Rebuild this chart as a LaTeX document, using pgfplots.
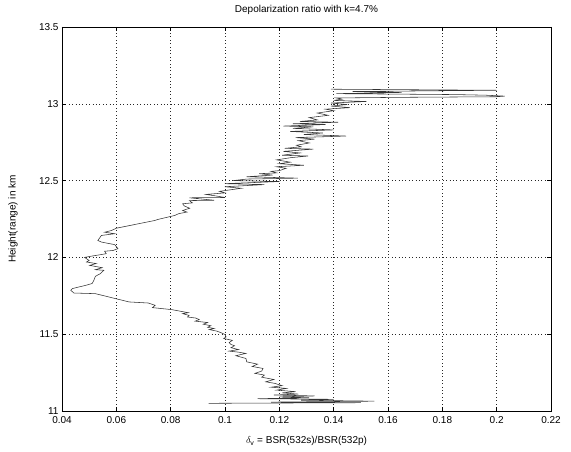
\documentclass[border=0pt]{standalone}
\usepackage{fontspec}
\setmainfont{Liberation Sans}
\usepackage{pgfplots}
\pgfplotsset{compat=1.18}
\pgfplotstableread{
v h
0.094 11.050
0.150 11.054
0.117 11.058
0.155 11.064
0.128 11.070
0.140 11.076
0.112 11.080
0.131 11.086
0.120 11.092
0.133 11.098
0.118 11.104
0.127 11.110
0.121 11.118
0.126 11.126
0.119 11.136
0.1226 11.147
0.117 11.155
0.121 11.165
0.1183 11.180
0.115 11.190
0.118 11.205
0.1135 11.220
0.1145 11.234
0.111 11.245
0.1135 11.260
0.114 11.277
0.110 11.290
0.112 11.305
0.108 11.320
0.1077 11.342
0.104 11.360
0.1077 11.375
0.105 11.383
0.1015 11.390
0.105 11.400
0.1022 11.412
0.1035 11.425
0.1022 11.433
0.1015 11.445
0.1027 11.460
0.0995 11.472
0.1004 11.482
0.1000 11.498
0.0985 11.510
0.0970 11.520
0.0942 11.530
0.0960 11.537
0.0936 11.545
0.0948 11.555
0.0920 11.565
0.0936 11.576
0.0890 11.585
0.0905 11.595
0.0893 11.605
0.0862 11.612
0.0868 11.622
0.0844 11.634
0.0865 11.640
0.0804 11.660
0.0733 11.673
0.0743 11.688
0.0718 11.703
0.0647 11.710
0.0596 11.732
0.0523 11.764
0.0444 11.768
0.0432 11.786
0.0438 11.797
0.0487 11.818
0.0511 11.830
0.0517 11.850
0.0523 11.877
0.0541 11.894
0.0554 11.916
0.0523 11.920
0.0548 11.933
0.0502 11.948
0.0526 11.960
0.0490 11.970
0.0500 11.980
0.0483 12.000
0.0508 12.008
0.0563 12.024
0.0557 12.040
0.0588 12.045
0.0606 12.057
0.0594 12.083
0.0545 12.100
0.0532 12.110
0.0545 12.143
0.0594 12.154
0.0557 12.164
0.0582 12.175
0.0600 12.190
0.0741 12.240
0.0753 12.247
0.0815 12.273
0.0830 12.285
0.0860 12.295
0.0844 12.305
0.0870 12.320
0.0850 12.335
0.0844 12.349
0.0880 12.355
0.0869 12.370
0.0960 12.372
0.0869 12.388
0.1000 12.390
0.0967 12.400
0.0930 12.410
0.1000 12.420
0.0980 12.430
0.1060 12.450
0.1000 12.460
0.1145 12.474
0.1000 12.480
0.1200 12.494
0.1030 12.500
0.1080 12.510
0.1268 12.516
0.1080 12.525
0.1175 12.536
0.1126 12.545
0.1190 12.550
0.1170 12.560
0.1200 12.565
0.1225 12.580
0.1190 12.590
0.1290 12.600
0.1200 12.610
0.1240 12.620
0.1190 12.635
0.1245 12.650
0.1306 12.660
0.1210 12.665
0.1276 12.680
0.1215 12.690
0.1325 12.705
0.1220 12.710
0.1280 12.720
0.1263 12.730
0.1310 12.745
0.1270 12.760
0.1330 12.770
0.1260 12.780
0.1446 12.790
0.1290 12.800
0.1360 12.810
0.1240 12.820
0.1400 12.830
0.1250 12.840
0.1325 12.850
0.1215 12.855
0.1370 12.865
0.1250 12.870
0.1416 12.880
0.1276 12.885
0.1340 12.895
0.1310 12.910
0.1380 12.925
0.1340 12.940
0.1400 12.955
0.1370 12.965
0.1460 12.975
0.1390 12.985
0.1450 12.995
0.1390 13.005
0.1520 13.015
0.1400 13.022
0.1430 13.030
0.1410 13.038
0.1640 13.042
0.2000 13.046
0.2030 13.050
0.1960 13.056
0.1850 13.060
0.1410 13.066
0.1650 13.074
0.1470 13.080
0.2000 13.088
0.1390 13.095
}\profile
\begin{document}
\begin{tikzpicture}
\begin{axis}[
  scale only axis,
  width=489pt, height=384pt,
  xmin=0.04, xmax=0.22, ymin=11, ymax=13.5,
  xtick={0.04,0.06,0.08,0.1,0.12,0.14,0.16,0.18,0.2,0.22},
  xticklabels={0.04,0.06,0.08,0.1,0.12,0.14,0.16,0.18,0.2,0.22},
  ytick={11,11.5,12,12.5,13,13.5},
  yticklabels={11,11.5,12,12.5,13,13.5},
  /pgf/number format/assume math mode=true,
  tick align=inside,
  major tick length=4pt,
  tick style={black, line width=0.5pt},
  axis line style={black, line width=0.6pt},
  grid=major,
  major grid style={black!85, line width=0.5pt, dash pattern=on 0.6pt off 2.8pt},
  font=\fontsize{10}{12}\selectfont,
  ticklabel style={font=\fontsize{10}{12}\selectfont},
  xticklabel style={yshift=-1.5pt},
  title={Depolarization ratio with k=4.7\%},
  title style={at={(axis description cs:0.5,1)}, anchor=south, yshift=3pt},
  xlabel={$\delta_{\mathrm{v}}$ = BSR(532s)/BSR(532p)},
  xlabel style={at={(axis description cs:0.5,0)}, anchor=center, yshift=-30pt},
  ylabel={Height(range) in km},
  ylabel style={at={(axis description cs:-0.1,0.5)}, anchor=center},
  clip=true,
]
\addplot[black!80, line width=0.55pt] table[x=v, y=h] {\profile};
\coordinate (bl) at (rel axis cs:0,0);
\coordinate (tr) at (rel axis cs:1,1);
\end{axis}
\pgfresetboundingbox
\path ([shift={(-62pt,-41pt)}]bl) rectangle ([shift={(20pt,27pt)}]tr);
\end{tikzpicture}
\end{document}
